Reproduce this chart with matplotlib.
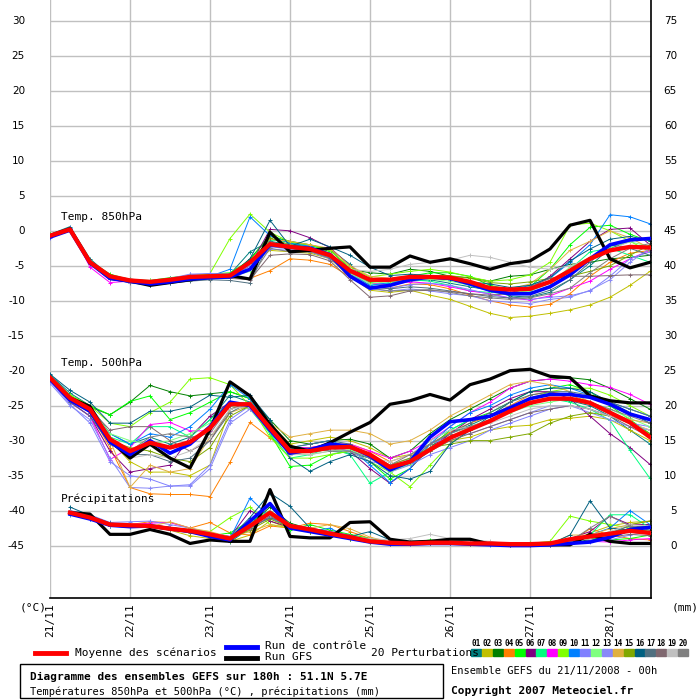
import matplotlib
matplotlib.use("Agg")
import matplotlib.pyplot as plt
from matplotlib.patches import Rectangle

# steps of 6h, 0..180h
steps = list(range(31))
day_labels = ["21/11", "22/11", "23/11", "24/11", "25/11", "26/11", "27/11", "28/11"]
left_ticks = [30, 25, 20, 15, 10, 5, 0, -5, -10, -15, -20, -25, -30, -35, -40, -45]
right_ticks = [75, 70, 65, 60, 55, 50, 45, 40, 35, 30, 25, 20, 15, 10, 5, 0]

member_colors = ["#008080", "#c0c000", "#008000", "#ff8000", "#00ff00", "#800080",
                 "#00ff80", "#ff00ff", "#80ff00", "#0080ff", "#8080ff", "#80ff80",
                 "#8888f8", "#e0b040", "#80a800", "#006080", "#507080", "#806870",
                 "#c0c0c0", "#808080"]

# ---- Temp 850hPa ----
t850_mean = [-0.7, 0.2, -4.5, -6.5, -7.1, -7.3, -7.0, -6.6, -6.5, -6.4, -4.5, -1.9, -2.3, -2.6, -3.5, -5.7,
             -7.0, -7.0, -6.6, -6.6, -6.7, -7.3, -8.2, -8.4, -8.3, -7.3, -5.7, -4.0, -2.8, -2.3, -2.4]
t850_ctrl = [-0.9, 0.1, -4.6, -6.8, -7.2, -7.6, -7.3, -6.9, -6.7, -6.6, -5.5, -2.0, -2.3, -2.5, -3.4, -6.5,
             -8.2, -7.8, -7.0, -6.6, -6.8, -7.6, -8.5, -9.0, -9.0, -8.0, -6.3, -4.0, -2.0, -1.3, -1.1]
t850_gfs = [-0.7, 0.3, -4.5, -6.8, -7.2, -7.8, -7.4, -7.0, -6.6, -6.4, -6.9, -0.2, -3.0, -2.8, -2.5, -2.3,
            -5.2, -5.2, -3.6, -4.5, -4.0, -4.7, -5.5, -4.7, -4.3, -2.6, 0.8, 1.5, -4.0, -5.3, -4.5]
t850_members = [
    [-0.5, 0.6, -4.0, -6.5, -7.3, -7.8, -7.0, -6.8, -6.3, -6.2, -3.0, -1.5, -2.0, -2.2, -2.6, -4.8, -7.5, -7.8, -7.2, -7.0, -7.5, -8.0, -8.5, -9.3, -9.5, -8.8, -7.0, -5.0, -2.5, -1.5, -1.0],
    [-0.9, 0.0, -4.8, -6.6, -7.4, -7.6, -7.2, -6.3, -6.5, -6.6, -5.0, -2.8, -3.0, -3.2, -4.0, -6.5, -8.5, -8.8, -8.5, -9.2, -9.8, -10.8, -11.8, -12.4, -12.2, -11.8, -11.3, -10.6, -9.5, -7.8, -5.8],
    [-0.7, 0.3, -4.4, -6.4, -6.9, -7.2, -6.8, -6.5, -6.3, -6.4, -4.0, -0.8, -1.5, -2.0, -2.7, -5.5, -6.0, -6.2, -5.5, -5.8, -6.5, -6.7, -7.2, -6.5, -6.3, -5.5, -4.8, -4.5, -4.0, -3.8, -3.5],
    [-0.8, 0.2, -4.6, -6.8, -7.0, -7.2, -7.1, -6.9, -6.8, -6.7, -6.8, -5.7, -4.0, -4.2, -4.8, -6.6, -8.0, -8.2, -7.6, -7.7, -8.3, -9.2, -10.0, -10.6, -10.9, -10.5, -9.0, -6.5, -4.5, -3.2, -2.8],
    [-0.6, 0.2, -4.3, -6.2, -7.0, -7.1, -6.7, -6.4, -6.2, -6.0, -4.2, -0.5, -1.8, -2.0, -3.0, -6.0, -7.4, -7.0, -6.5, -6.0, -6.0, -6.5, -7.8, -8.4, -8.0, -5.5, -2.0, 0.5, 0.8, -0.5, -1.5],
    [-0.8, 0.1, -4.7, -6.9, -7.3, -7.6, -7.3, -6.8, -6.6, -6.5, -5.0, 0.2, 0.0, -1.0, -2.4, -5.0, -7.0, -7.3, -6.9, -6.8, -7.0, -7.7, -8.3, -8.8, -8.3, -6.5, -4.0, -1.5, 0.2, 0.4, -2.0],
    [-0.7, 0.3, -4.4, -6.5, -7.0, -7.5, -7.0, -6.6, -6.4, -6.6, -5.5, -1.3, -1.6, -2.5, -3.6, -6.0, -7.8, -7.5, -7.0, -7.2, -7.8, -8.6, -8.8, -9.0, -8.5, -7.5, -5.5, -3.0, -2.5, -3.5, -4.5],
    [-0.6, 0.4, -5.2, -7.4, -7.2, -7.5, -7.2, -6.6, -6.4, -6.3, -4.5, -2.0, -2.5, -2.8, -3.8, -6.0, -7.5, -7.7, -7.3, -7.5, -8.0, -8.6, -9.0, -9.6, -9.9, -9.3, -8.2, -7.2, -5.5, -4.0, -2.8],
    [-0.5, 0.3, -4.4, -6.3, -7.0, -7.2, -6.9, -6.5, -6.1, -1.1, 2.4, -0.2, -1.6, -2.0, -2.8, -5.2, -6.6, -6.2, -5.8, -5.5, -5.9, -6.6, -7.2, -7.0, -6.3, -4.5, 0.8, 1.1, 0.0, -1.5, -3.0],
    [-0.6, 0.4, -4.5, -6.6, -7.2, -7.4, -7.0, -6.7, -6.5, -5.5, 2.0, -0.7, -1.8, -2.2, -3.3, -6.2, -7.8, -7.4, -6.8, -6.7, -7.0, -7.6, -8.4, -8.5, -7.8, -6.8, -4.5, -2.0, 2.3, 2.0, 1.0],
    [-1.0, 0.1, -4.5, -6.7, -7.5, -7.7, -7.2, -6.2, -6.1, -6.2, -5.5, -2.6, -2.8, -3.0, -4.0, -6.2, -8.0, -8.2, -7.7, -7.5, -7.8, -8.4, -9.1, -9.6, -9.8, -9.5, -9.3, -8.6, -6.5, -4.0, -3.0],
    [-0.8, 0.2, -4.6, -6.8, -7.2, -7.4, -7.1, -6.8, -6.5, -6.6, -5.8, -2.2, -2.4, -2.6, -3.5, -6.1, -7.5, -7.3, -6.9, -6.9, -7.2, -7.8, -8.6, -8.9, -8.6, -7.5, -5.2, -3.8, -2.3, -1.6, -2.2],
    [-0.9, 0.0, -4.7, -6.9, -7.3, -7.6, -6.8, -6.2, -6.5, -6.5, -5.0, -2.3, -2.6, -2.8, -3.7, -6.5, -8.3, -8.6, -8.3, -8.6, -9.0, -9.3, -10.0, -10.2, -10.4, -9.8, -9.5, -8.5, -7.0, -4.5, -2.5],
    [-0.6, 0.3, -4.4, -6.4, -7.0, -7.2, -6.9, -6.6, -6.6, -6.3, -4.8, -1.2, -1.5, -2.0, -2.5, -5.0, -6.5, -6.8, -6.4, -6.5, -6.8, -7.2, -8.0, -8.3, -7.6, -5.5, -2.8, -1.5, 0.0, -1.0, -2.5],
    [-0.7, 0.2, -4.5, -6.5, -7.1, -7.3, -7.0, -6.5, -6.4, -6.4, -4.6, -1.0, -2.0, -2.4, -3.2, -5.9, -7.2, -7.0, -6.6, -6.4, -6.4, -6.8, -7.4, -7.6, -7.3, -6.8, -6.5, -5.8, -5.0, -3.5, -2.0],
    [-0.9, 0.3, -4.6, -6.6, -7.2, -7.8, -7.4, -7.1, -6.9, -6.6, -4.0, 1.5, -2.2, -1.2, -2.3, -3.5, -5.2, -6.4, -6.2, -6.4, -6.9, -7.3, -7.6, -8.1, -7.8, -6.7, -4.3, -2.6, -1.2, -0.8, -1.4],
    [-0.8, 0.1, -4.6, -6.7, -7.3, -7.8, -7.5, -7.2, -7.0, -7.1, -7.5, -1.5, -2.5, -2.9, -3.9, -6.3, -8.0, -8.3, -8.0, -8.2, -8.6, -9.0, -9.4, -9.6, -9.4, -8.5, -7.0, -4.5, -2.0, -2.5, -3.5],
    [-0.8, 0.1, -4.7, -6.8, -7.3, -7.5, -7.1, -6.8, -6.7, -6.8, -7.0, -3.5, -3.3, -3.4, -4.3, -7.0, -9.5, -9.3, -8.6, -8.5, -8.7, -9.0, -9.2, -9.0, -8.0, -6.8, -6.5, -6.5, -6.4, -6.3, -6.3],
    [-0.6, 0.3, -4.4, -6.5, -6.9, -7.2, -6.9, -6.6, -6.5, -6.5, -4.7, -2.0, -2.2, -2.4, -3.2, -5.5, -5.8, -5.5, -4.8, -4.5, -4.2, -3.5, -3.8, -4.5, -5.2, -5.5, -5.0, -4.0, -2.8, -1.5, -1.0],
    [-0.7, 0.2, -4.5, -6.6, -7.1, -7.4, -7.0, -6.7, -6.8, -6.6, -6.8, -2.5, -3.0, -3.0, -3.8, -6.3, -8.2, -8.6, -8.5, -8.4, -8.8, -9.3, -9.6, -9.8, -9.6, -9.0, -8.2, -6.0, -4.0, -2.5, -1.8],
]

# ---- Temp 500hPa ----
t500_mean = [-21.0, -23.9, -25.5, -29.8, -31.5, -30.3, -31.0, -30.2, -28.2, -24.8, -24.8, -28.2, -31.5, -31.5, -31.0, -30.9,
             -32.0, -33.8, -33.0, -31.3, -29.6, -28.4, -27.2, -25.8, -24.6, -24.0, -24.0, -24.6, -26.0, -27.4, -29.5]
t500_ctrl = [-21.2, -24.2, -25.8, -30.2, -32.0, -30.0, -31.8, -30.5, -28.0, -24.5, -25.0, -28.5, -31.8, -31.3, -30.5, -30.8,
             -32.2, -34.2, -33.0, -29.5, -27.3, -27.0, -26.5, -25.3, -24.0, -23.4, -23.4, -23.8, -24.8, -26.2, -27.0]
t500_gfs = [-21.0, -23.9, -25.1, -30.0, -32.5, -30.5, -32.5, -33.9, -28.4, -21.6, -23.6, -27.7, -30.8, -31.5, -30.3, -28.8,
            -27.4, -24.8, -24.3, -23.4, -24.2, -22.0, -21.2, -20.0, -19.8, -20.8, -21.0, -23.6, -24.3, -24.6, -24.6]
t500_members = [
    [-20.6, -23.2, -25.0, -29.0, -30.5, -29.5, -30.5, -29.5, -27.0, -23.5, -24.5, -27.5, -31.0, -31.0, -31.5, -31.8, -32.5, -34.0, -33.5, -31.5, -29.0, -27.8, -26.5, -25.5, -24.8, -24.0, -24.3, -25.0, -26.5, -28.5, -30.5],
    [-21.2, -24.0, -25.6, -30.0, -33.0, -34.5, -34.5, -35.0, -33.5, -25.5, -24.5, -27.5, -30.5, -30.0, -29.5, -30.0, -31.0, -32.5, -32.0, -31.5, -30.0, -29.5, -28.5, -28.0, -27.8, -27.0, -26.8, -26.5, -27.0, -28.5, -30.0],
    [-21.0, -23.6, -25.2, -26.3, -24.5, -22.1, -23.0, -23.6, -23.3, -23.0, -24.0, -27.0, -30.0, -30.5, -30.0, -29.8, -30.5, -32.5, -31.5, -29.0, -27.0, -25.5, -24.0, -22.5, -21.5, -21.2, -21.0, -21.3, -22.5, -24.0, -25.5],
    [-21.3, -24.0, -26.0, -31.0, -36.7, -37.6, -37.7, -37.7, -38.0, -33.1, -27.4, -29.6, -31.5, -31.0, -30.5, -30.5, -31.5, -33.0, -32.0, -30.5, -28.8, -27.5, -26.5, -25.0, -23.5, -23.0, -23.5, -24.5, -26.0, -27.5, -28.5],
    [-20.8, -23.5, -25.0, -26.3, -24.4, -23.6, -27.0, -26.0, -24.5, -23.0, -24.0, -29.0, -33.7, -33.5, -32.0, -31.5, -33.0, -35.5, -34.0, -31.0, -28.5, -27.0, -26.0, -24.5, -23.0, -22.5, -22.0, -23.0, -25.0, -27.0, -29.0],
    [-21.2, -24.5, -26.5, -31.5, -34.5, -34.0, -33.5, -29.5, -26.5, -24.5, -25.0, -28.0, -31.5, -31.0, -31.0, -31.5, -34.0, -36.1, -34.0, -31.0, -29.0, -27.0, -25.5, -24.0, -23.0, -23.0, -24.0, -26.5, -29.0, -31.0, -33.4],
    [-21.0, -24.0, -25.5, -29.5, -30.5, -28.0, -28.0, -29.5, -27.0, -24.5, -25.5, -29.0, -32.5, -32.0, -31.0, -32.0, -36.1, -34.5, -32.5, -30.0, -28.5, -27.0, -26.5, -25.5, -24.5, -24.0, -24.5, -25.5, -27.1, -31.4, -35.4],
    [-21.5, -24.5, -26.5, -32.7, -31.0, -27.7, -27.4, -28.6, -28.6, -25.0, -25.5, -28.5, -31.0, -31.0, -30.5, -30.5, -31.5, -32.5, -31.5, -30.0, -28.0, -26.0, -24.5, -22.5, -21.5, -21.2, -21.5, -22.0, -22.4, -23.4, -24.8],
    [-20.8, -23.5, -25.0, -27.5, -28.0, -26.0, -24.5, -21.2, -21.0, -22.0, -25.0, -29.5, -32.5, -32.5, -32.0, -31.5, -33.0, -34.5, -36.6, -33.5, -30.5, -28.5, -27.0, -25.5, -24.0, -23.0, -22.5, -22.5, -23.5, -25.0, -26.5],
    [-21.0, -24.0, -26.0, -29.0, -30.5, -29.0, -29.5, -28.0, -25.5, -22.0, -24.0, -28.5, -31.0, -30.5, -30.0, -31.0, -33.5, -36.0, -34.0, -30.5, -28.0, -26.0, -25.0, -23.5, -22.5, -22.0, -22.5, -23.5, -24.5, -25.5, -26.5],
    [-21.5, -24.8, -27.5, -33.0, -35.0, -35.5, -36.5, -36.3, -33.5, -27.0, -25.0, -28.0, -31.5, -31.5, -31.0, -31.0, -32.5, -34.5, -33.5, -32.0, -31.0, -30.0, -28.5, -27.5, -26.5, -25.5, -25.0, -25.5, -26.5, -27.5, -28.0],
    [-20.9, -23.8, -25.3, -29.0, -30.0, -30.5, -30.0, -29.0, -27.5, -25.0, -25.5, -28.8, -31.8, -32.0, -31.5, -31.3, -32.5, -34.5, -33.3, -31.0, -29.5, -28.0, -27.0, -26.0, -25.0, -24.5, -24.0, -24.5, -25.5, -26.8, -28.0],
    [-21.8, -25.0, -27.0, -32.5, -36.7, -36.8, -36.5, -36.5, -34.0, -27.5, -25.5, -28.5, -32.0, -31.5, -31.0, -31.5, -33.0, -33.5, -32.5, -30.5, -29.5, -29.0, -28.0, -27.0, -26.0, -25.0, -25.0, -26.0, -27.0, -28.0, -28.5],
    [-21.0, -23.8, -25.5, -30.0, -36.7, -33.5, -34.5, -34.0, -29.5, -26.0, -25.0, -27.5, -29.5, -29.0, -28.5, -28.5, -29.0, -30.5, -30.0, -28.5, -26.5, -25.0, -23.5, -22.0, -21.5, -22.0, -23.0, -24.5, -26.0, -27.0, -27.5],
    [-21.2, -24.0, -25.8, -30.0, -31.0, -31.5, -32.5, -33.0, -31.0, -26.5, -25.0, -28.0, -31.0, -31.5, -31.0, -31.0, -32.0, -33.5, -32.5, -31.0, -30.5, -30.0, -30.0, -29.5, -29.0, -27.5, -26.5, -26.0, -26.5, -27.5, -29.0],
    [-20.5, -22.8, -24.5, -27.5, -27.5, -25.8, -25.8, -25.2, -23.5, -23.8, -23.5, -27.0, -32.5, -34.4, -33.0, -32.0, -33.0, -35.0, -35.5, -34.4, -30.5, -28.5, -26.5, -24.5, -23.0, -22.5, -22.5, -23.0, -24.5, -26.0, -27.5],
    [-21.3, -24.5, -26.5, -30.5, -32.0, -32.0, -33.0, -32.5, -30.0, -26.0, -24.5, -28.0, -31.0, -30.5, -30.0, -30.5, -32.5, -34.0, -33.0, -30.5, -29.0, -27.5, -26.0, -24.5, -23.5, -23.0, -23.0, -23.5, -24.5, -25.5, -26.5],
    [-21.0, -24.0, -25.5, -28.5, -28.0, -28.0, -30.0, -31.5, -30.0, -25.5, -24.5, -27.8, -31.5, -31.5, -31.0, -31.0, -32.0, -33.5, -33.0, -31.5, -30.0, -29.0, -28.0, -27.0, -26.0, -25.5, -25.0, -25.5, -26.5, -28.0, -29.5],
    [-21.0, -24.0, -25.8, -30.0, -32.5, -32.0, -32.5, -31.5, -29.5, -25.5, -25.0, -28.5, -32.0, -32.0, -31.5, -31.0, -32.5, -33.0, -32.0, -30.0, -28.5, -28.0, -27.5, -26.5, -25.5, -25.0, -25.0, -25.5, -26.5, -27.5, -28.5],
    [-21.2, -24.2, -26.0, -30.5, -31.5, -29.5, -29.0, -29.5, -29.0, -25.0, -24.5, -28.0, -31.5, -31.0, -31.5, -31.5, -32.5, -33.5, -32.0, -30.5, -29.0, -28.0, -27.0, -25.5, -24.5, -24.0, -24.0, -24.5, -25.5, -26.5, -27.5],
]

# ---- Precipitation (mm), steps 1..30 ----
rr_mean = [4.7, 4.0, 3.0, 2.9, 2.8, 2.4, 2.1, 1.6, 1.0, 2.8, 4.7, 2.8, 2.3, 1.7, 1.2,
           0.6, 0.4, 0.3, 0.4, 0.4, 0.3, 0.3, 0.2, 0.2, 0.3, 0.9, 1.3, 1.7, 2.1, 1.8]
rr_ctrl = [4.5, 3.8, 2.9, 2.7, 2.8, 2.4, 2.0, 1.3, 0.8, 3.5, 6.0, 2.5, 2.0, 1.5, 1.0,
           0.5, 0.2, 0.2, 0.3, 0.3, 0.2, 0.1, 0.0, 0.0, 0.1, 0.3, 0.5, 1.2, 2.3, 2.6]
rr_gfs = [4.7, 4.5, 1.6, 1.6, 2.3, 1.6, 0.3, 0.8, 0.6, 0.6, 8.0, 1.3, 1.1, 1.1, 3.3,
          3.4, 0.9, 0.5, 0.6, 0.9, 0.9, 0.2, 0.1, 0.1, 0.1, 0.1, 1.6, 0.6, 0.3, 0.3]
rr_members = [
    [4.5, 3.8, 2.8, 2.6, 2.6, 2.2, 2.0, 1.2, 0.5, 2.5, 4.5, 3.0, 2.2, 1.5, 1.0, 0.5, 0.3, 0.3, 0.5, 0.4, 0.2, 0.2, 0.1, 0.1, 0.2, 0.8, 1.2, 1.5, 2.5, 2.0],
    [4.8, 4.2, 3.2, 3.0, 2.7, 2.2, 1.4, 1.0, 0.6, 1.5, 3.5, 2.4, 2.0, 1.6, 1.2, 0.5, 0.2, 0.2, 0.3, 0.3, 0.2, 0.2, 0.1, 0.1, 0.2, 0.3, 1.8, 2.8, 3.3, 3.5],
    [5.0, 4.1, 3.2, 3.0, 3.0, 2.6, 2.2, 1.5, 1.2, 3.0, 5.5, 3.2, 2.4, 1.8, 1.4, 0.6, 0.4, 0.3, 0.4, 0.3, 0.2, 0.2, 0.1, 0.1, 0.1, 0.5, 0.8, 1.5, 2.5, 2.8],
    [4.6, 3.9, 3.0, 3.0, 3.4, 3.3, 2.5, 3.3, 1.8, 1.5, 2.8, 2.5, 3.2, 3.0, 2.0, 1.0, 0.4, 0.3, 0.3, 0.3, 0.2, 0.2, 0.1, 0.1, 0.2, 0.5, 2.4, 1.5, 1.0, 0.8],
    [4.5, 3.9, 2.9, 2.8, 2.8, 2.5, 2.0, 1.4, 1.8, 3.5, 4.5, 2.2, 3.0, 2.2, 1.6, 1.0, 0.5, 0.4, 0.8, 0.5, 0.3, 0.2, 0.1, 0.1, 0.2, 0.6, 1.0, 0.8, 1.0, 1.5],
    [4.7, 4.1, 3.0, 2.9, 2.9, 2.6, 2.2, 1.5, 1.2, 5.0, 3.5, 2.6, 2.1, 1.6, 1.1, 0.5, 0.2, 0.2, 0.3, 0.3, 0.2, 0.2, 0.1, 0.1, 0.1, 1.0, 2.0, 4.2, 3.0, 3.0],
    [4.6, 4.0, 3.0, 2.9, 2.9, 2.5, 2.1, 1.6, 1.3, 3.5, 5.0, 2.4, 2.3, 1.7, 1.1, 0.6, 0.4, 0.3, 0.4, 0.3, 0.2, 0.2, 0.1, 0.1, 0.1, 0.5, 1.5, 4.4, 4.4, 2.5],
    [4.9, 4.2, 3.0, 3.0, 3.2, 3.3, 2.5, 1.8, 1.3, 3.0, 4.5, 3.0, 2.5, 2.0, 1.4, 0.7, 0.5, 0.3, 0.3, 0.3, 0.2, 0.2, 0.1, 0.1, 0.2, 0.4, 0.6, 0.5, 0.8, 1.0],
    [4.8, 4.1, 3.1, 3.0, 2.9, 2.6, 2.3, 2.0, 4.0, 5.5, 3.0, 2.5, 2.0, 1.4, 1.0, 0.6, 0.3, 0.3, 0.3, 0.3, 0.2, 0.2, 0.1, 0.3, 0.6, 4.2, 3.5, 3.0, 2.5, 2.0],
    [4.4, 3.8, 2.8, 2.7, 2.7, 2.4, 1.9, 1.4, 1.0, 6.8, 4.0, 2.6, 2.0, 2.5, 1.0, 0.5, 0.3, 0.2, 0.3, 0.3, 0.2, 0.1, 0.1, 0.1, 0.2, 1.0, 1.5, 2.5, 5.0, 3.0],
    [5.0, 4.4, 3.3, 3.4, 3.5, 3.0, 2.5, 1.8, 1.3, 2.5, 4.0, 2.8, 2.3, 1.8, 1.3, 0.6, 0.3, 0.3, 0.3, 0.3, 0.2, 0.2, 0.1, 0.1, 0.1, 0.3, 0.5, 0.8, 1.5, 2.0],
    [4.7, 4.1, 3.1, 2.9, 2.8, 2.4, 2.1, 1.6, 1.1, 3.0, 5.0, 2.8, 2.4, 1.8, 1.3, 0.6, 0.4, 0.3, 0.4, 0.3, 0.2, 0.2, 0.1, 0.1, 0.2, 0.7, 1.2, 2.0, 2.4, 2.2],
    [4.6, 4.0, 3.0, 2.8, 2.7, 2.3, 2.0, 1.6, 1.1, 2.6, 4.8, 2.7, 2.2, 1.6, 1.1, 0.5, 0.3, 0.2, 0.3, 0.3, 0.2, 0.2, 0.1, 0.1, 0.1, 0.5, 1.0, 1.4, 2.0, 1.6],
    [4.5, 3.9, 2.9, 2.8, 2.7, 3.4, 2.5, 2.0, 1.2, 2.0, 3.0, 2.6, 2.5, 3.0, 2.4, 1.2, 0.5, 0.3, 0.3, 0.3, 0.3, 0.2, 0.1, 0.1, 0.2, 1.5, 1.5, 2.4, 3.0, 3.5],
    [4.6, 4.0, 3.0, 2.9, 2.8, 2.4, 1.8, 1.4, 1.0, 2.2, 3.8, 2.6, 2.0, 1.4, 1.0, 0.5, 0.3, 0.3, 0.3, 0.3, 0.2, 0.2, 0.2, 0.2, 0.3, 0.6, 1.0, 1.5, 3.0, 3.5],
    [5.5, 4.3, 3.2, 3.0, 2.9, 2.5, 2.2, 1.6, 1.1, 4.0, 7.5, 5.6, 2.5, 1.8, 1.3, 2.0, 0.8, 0.4, 0.5, 0.4, 0.3, 0.2, 0.1, 0.1, 0.2, 1.5, 6.4, 2.5, 2.2, 2.0],
    [4.8, 4.1, 3.1, 2.9, 2.8, 2.4, 2.1, 1.5, 1.0, 2.5, 4.0, 3.0, 2.5, 2.0, 1.5, 0.8, 0.4, 0.3, 0.4, 0.3, 0.2, 0.2, 0.1, 0.1, 0.2, 0.6, 1.2, 1.8, 2.8, 2.6],
    [4.6, 4.0, 3.0, 2.8, 2.7, 2.3, 2.0, 1.5, 1.0, 2.4, 4.2, 2.7, 2.2, 1.7, 1.2, 0.6, 0.3, 0.3, 0.3, 0.3, 0.2, 0.2, 0.1, 0.1, 0.1, 0.3, 0.7, 1.2, 1.6, 1.4],
    [4.8, 4.1, 3.0, 2.9, 2.8, 2.5, 2.2, 1.7, 1.2, 2.6, 4.4, 2.8, 2.4, 1.8, 1.3, 1.0, 0.8, 1.0, 1.6, 1.0, 0.8, 0.6, 0.2, 0.1, 0.2, 0.5, 1.0, 2.0, 3.0, 2.8],
    [4.7, 4.0, 3.0, 2.9, 2.7, 2.3, 2.0, 1.5, 1.0, 2.7, 4.5, 2.8, 2.3, 1.8, 1.3, 0.6, 0.3, 0.3, 0.3, 0.3, 0.2, 0.2, 0.1, 0.1, 0.2, 0.6, 2.5, 4.2, 2.8, 2.2],
]

for s in t850_members + t500_members + [t850_mean, t850_ctrl, t850_gfs, t500_mean, t500_ctrl, t500_gfs]:
    assert len(s) == 31, len(s)
for s in rr_members + [rr_mean, rr_ctrl, rr_gfs]:
    assert len(s) == 30, len(s)

RR_OFFSET = -45  # precip drawn on right axis where 0 mm == -45 on left axis

W, H = 700, 700
fig = plt.figure(figsize=(7, 7), dpi=100)
ax = fig.add_axes([50 / W, 1 - 598 / H, 601 / W, 598 / H])
ax.set_xlim(0, 30.05)
ax.set_ylim(-52.5, 33)

for v in left_ticks:
    ax.axhline(v, color="#c0c0c0", lw=1, zorder=0)
for d in range(0, 31, 4):
    ax.axvline(d, color="#c0c0c0", lw=1, zorder=0)

rr_steps = steps[1:]
for i, c in enumerate(member_colors):
    kw = dict(color=c, lw=0.7, marker="+", ms=3, mew=0.7, zorder=2)
    ax.plot(steps, t850_members[i], **kw)
    ax.plot(steps, t500_members[i], **kw)
    ax.plot(rr_steps, [r + RR_OFFSET for r in rr_members[i]], **kw)

for ser in (t850_gfs, t500_gfs):
    ax.plot(steps, ser, color="black", lw=2.3, zorder=3)
ax.plot(rr_steps, [r + RR_OFFSET for r in rr_gfs], color="black", lw=2.3, zorder=3)
for ser in (t850_ctrl, t500_ctrl):
    ax.plot(steps, ser, color="#0000ff", lw=2.6, zorder=4)
ax.plot(rr_steps, [r + RR_OFFSET for r in rr_ctrl], color="#0000ff", lw=2.6, zorder=4)
for ser in (t850_mean, t500_mean):
    ax.plot(steps, ser, color="#ff0000", lw=3.1, zorder=5)
ax.plot(rr_steps, [r + RR_OFFSET for r in rr_mean], color="#ff0000", lw=3.1, zorder=5)

mono = "DejaVu Sans Mono"
ax.text(0.55, 1.3, "Temp. 850hPa", fontsize=8, family=mono, va="bottom")
ax.text(0.55, -19.6, "Temp. 500hPa", fontsize=8, family=mono, va="bottom")
ax.text(0.55, -39.0, "Précipitations", fontsize=8, family=mono, va="bottom")

for sp in ("top", "left"):
    ax.spines[sp].set_visible(False)
ax.spines["right"].set_linewidth(1.2)
ax.spines["bottom"].set_linewidth(1.2)
ax.set_xticks([])
ax.set_yticks([])

# axis tick labels
for v in left_ticks:
    ax.text(-1.25, v, str(v), fontsize=7.5, ha="right", va="center", clip_on=False)
for v, lab in zip(left_ticks, right_ticks):
    ax.text(31.35, v, str(lab), fontsize=7.5, ha="right", va="center", clip_on=False)

for k, lab in enumerate(day_labels):
    ax.text(k * 4, -53.3, lab, fontsize=8, family=mono, rotation=90,
            ha="center", va="top", clip_on=False)

def ftext(x, y, s, **kw):
    fig.text(x / W, 1 - y / H, s, **kw)

ftext(20, 608, "(°C)", fontsize=8, family=mono, va="center")
ftext(672, 608, "(mm)", fontsize=8, family=mono, va="center")

# legend
fig.add_artist(plt.Line2D([35 / W, 66 / W], [1 - 653 / H] * 2, color="#ff0000", lw=3.5))
ftext(75, 653, "Moyenne des scénarios", fontsize=8, family=mono, va="center")
fig.add_artist(plt.Line2D([226 / W, 257 / W], [1 - 647 / H] * 2, color="#0000ff", lw=3.5))
fig.add_artist(plt.Line2D([226 / W, 257 / W], [1 - 658 / H] * 2, color="black", lw=3.5))
ftext(265, 646, "Run de contrôle", fontsize=8, family=mono, va="center")
ftext(265, 657, "Run GFS", fontsize=8, family=mono, va="center")
ftext(371, 653, "20 Perturbations", fontsize=8, family=mono, va="center")
for i, c in enumerate(member_colors):
    x0 = 471 + i * 10.9
    fig.add_artist(Rectangle((x0 / W, 1 - 656 / H), 10 / W, 7 / H, color=c,
                             transform=fig.transFigure))
    ftext(x0 + 5, 643, "%02d" % (i + 1), fontsize=5.5, family=mono,
          ha="center", va="center", weight="bold")

# title box
fig.add_artist(Rectangle((20 / W, 1 - 698 / H), 423 / W, 34 / H, fill=False,
                         ec="black", lw=1, transform=fig.transFigure))
ftext(30, 677, "Diagramme des ensembles GEFS sur 180h : 51.1N 5.7E",
      fontsize=8, family=mono, weight="bold", va="center")
ftext(30, 692, "Températures 850hPa et 500hPa (°C) , précipitations (mm)",
      fontsize=7.5, family=mono, va="center")
ftext(451, 671, "Ensemble GEFS du 21/11/2008 - 00h", fontsize=7.5, family=mono, va="center")
ftext(451, 691, "Copyright 2007 Meteociel.fr", fontsize=8, family=mono,
      weight="bold", va="center")

fig.savefig("out.png", dpi=100, facecolor="white")
